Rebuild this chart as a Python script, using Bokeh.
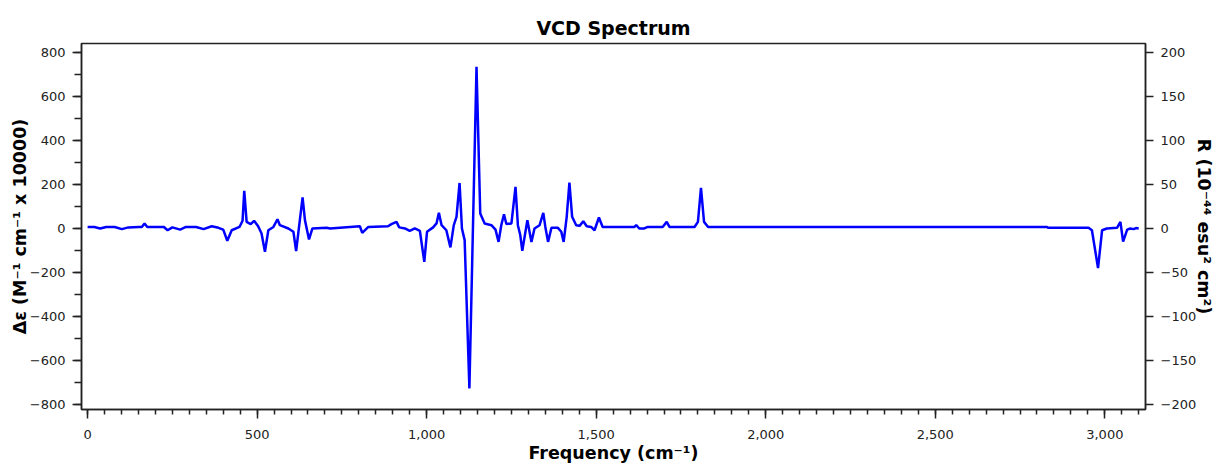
from bokeh.plotting import figure
from bokeh.models import Range1d, LinearAxis, SingleIntervalTicker, NumeralTickFormatter
from bokeh.embed import file_html
from bokeh.resources import INLINE

# Frequency (cm^-1) and Δε values
freq = [0, 20, 37, 55, 80, 101, 120, 150, 160, 168, 176, 225, 236, 250, 273, 290, 320, 342, 366, 386,
        400, 412, 425, 448, 457, 462, 469, 481, 491, 503, 513, 523, 533, 548, 560, 567, 592, 607, 615,
        634, 641, 653, 663, 705, 715, 754, 803, 810, 828, 886, 896, 911, 919, 936, 950, 965, 980, 993,
        1001, 1019, 1029, 1036, 1044, 1058, 1070, 1080, 1088, 1097, 1104, 1112, 1126, 1147, 1158, 1171,
        1191, 1203, 1212, 1220, 1228, 1235, 1250, 1262, 1269, 1276, 1282, 1297, 1309, 1318, 1333, 1344,
        1350, 1358, 1368, 1387, 1397, 1404, 1413, 1421, 1429, 1441, 1451, 1462, 1472, 1485, 1495, 1508,
        1519, 1613, 1618, 1627, 1642, 1652, 1696, 1708, 1716, 1790, 1800, 1809, 1818, 1830, 2830, 2832,
        2952, 2962, 2980, 2992, 3006, 3036, 3046, 3054, 3066, 3075, 3085, 3092, 3100]
delta_eps = [7, 7, 0, 7, 7, -3, 5, 7, 7, 23, 7, 7, -8, 5, -5, 7, 7, -3, 10, 3,
             -5, -56, -8, 7, 35, 171, 30, 20, 35, 10, -23, -106, -8, 7, 42, 15, 0, -15, -103,
             141, 38, -50, 0, 3, 0, 5, 10, -20, 7, 10, 20, 30, 5, 0, -11, 0, -11, -152,
             -15, 5, 23, 71, 15, -8, -86, 15, 53, 207, 0, -53, -727, 735, 68, 23,
             15, -5, -61, 15, 65, 20, 23, 189, 15, -30, -102, 38, -61, 0, 15, 71,
             7, -61, 3, 3, -15, -61, 53, 209, 53, 15, 12, 33, 10, 7, -8, 50,
             7, 7, 15, 0, 0, 7, 7, 30, 7, 7, 30, 185, 30, 7, 7, 3,
             3, -8, -180, -8, 0, 3, 30, -60, -5, 0, -3, 2, 0]

title_text = "VCD Spectrum"
x_label = "Frequency (cm⁻¹)"
y_label = "Δε (M⁻¹ cm⁻¹ x 10000)"
r_label = "R (10⁻⁴⁴ esu² cm²)"

FONT = "DejaVu Sans"

p = figure(width=1217, height=465, output_backend="svg", toolbar_location=None,
           x_range=Range1d(-18, 3120), y_range=Range1d(-823, 841),
           min_border_left=81, min_border_right=72, min_border_top=43, min_border_bottom=56)

p.title.text = title_text
p.title.align = "center"
p.title.text_font = FONT
p.title.text_font_size = "19px"
p.title.text_font_style = "bold"
p.title.text_color = "black"

p.xgrid.visible = False
p.ygrid.visible = False
p.outline_line_color = "#222222"
p.outline_line_width = 1.5
p.background_fill_color = "white"
p.border_fill_color = "white"

p.extra_y_ranges = {"r": Range1d(-823 / 4, 841 / 4)}
raxis = LinearAxis(y_range_name="r")
p.add_layout(raxis, "right")

xa = p.xaxis[0]
xa.ticker = SingleIntervalTicker(interval=500, num_minor_ticks=10)
xa.formatter = NumeralTickFormatter(format="0,0")
xa.axis_label = x_label

ya = p.yaxis[0]
ya.ticker = SingleIntervalTicker(interval=200, num_minor_ticks=2)
ya.axis_label = y_label

raxis.ticker = SingleIntervalTicker(interval=50, num_minor_ticks=0)
raxis.axis_label = r_label

for ax in (xa, ya, raxis):
    ax.axis_line_color = "#222222"
    ax.axis_line_width = 1.5
    ax.major_tick_line_color = "#222222"
    ax.major_tick_line_width = 1.5
    ax.minor_tick_line_color = "#222222"
    ax.minor_tick_line_width = 1.5
    ax.major_tick_out = 9
    ax.major_tick_in = 0
    ax.minor_tick_out = 6
    ax.minor_tick_in = 0
    ax.major_label_text_font = FONT
    ax.major_label_text_font_size = "13px"
    ax.major_label_text_color = "#222222"
    ax.axis_label_text_font = FONT
    ax.axis_label_text_font_size = "17.5px"
    ax.axis_label_text_font_style = "bold"
    ax.axis_label_text_color = "black"

xa.major_label_standoff = 11
xa.axis_label_standoff = 1
xa.minor_tick_out = 5
ya.major_label_standoff = 7
ya.axis_label_standoff = -3
ya.minor_tick_out = 7
raxis.major_tick_out = 8
raxis.major_label_standoff = 7
raxis.axis_label_standoff = -5

p.line(freq, delta_eps, line_color="#0000FF", line_width=2.5)

open("out.html", "w").write(file_html(p, INLINE))
